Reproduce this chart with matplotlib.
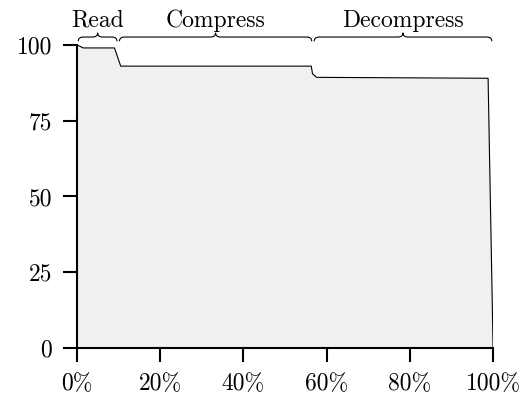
import numpy as np
import matplotlib
matplotlib.use('Agg')
import matplotlib.pyplot as plt
from matplotlib.patches import PathPatch
from matplotlib.path import Path as MplPath
from matplotlib.transforms import blended_transform_factory

plt.rcParams.update({
    "font.family": "cmr10",
    "mathtext.fontset": "cm",
    "axes.unicode_minus": False,
    "font.size": 17,
})

# ---------------------------------------------------------------------------
# DATA
# ---------------------------------------------------------------------------
progress = [0, 1.5, 9.0, 10.5, 56.3, 56.6, 57.6, 98.8, 100]
value = [100, 99, 99, 93, 93, 90.5, 89.3, 89, 0]

phase_names = ["Read", "Compress", "Decompress"]
phase_bounds = [(0, 9.9), (9.9, 56.7), (56.7, 100)]

x_ticks = [0, 20, 40, 60, 80, 100]
x_tick_labels = ["0%", "20%", "40%", "60%", "80%", "100%"]
y_ticks = [0, 25, 50, 75, 100]


def brace_path(x0, x1, yb, ym, yt, r):
    xm = 0.5 * (x0 + x1)
    verts = [(x0, yb), (x0, ym), (x0 + r, ym),
             (xm - r, ym),
             (xm, ym), (xm, yt),
             (xm, ym), (xm + r, ym),
             (x1 - r, ym),
             (x1, ym), (x1, yb)]
    codes = [MplPath.MOVETO, MplPath.CURVE3, MplPath.CURVE3,
             MplPath.LINETO,
             MplPath.CURVE3, MplPath.CURVE3,
             MplPath.CURVE3, MplPath.CURVE3,
             MplPath.LINETO,
             MplPath.CURVE3, MplPath.CURVE3]
    return MplPath(verts, codes)


fig = plt.figure(figsize=(5.24, 4.01), dpi=100)
ax = fig.add_axes([0.147, 0.132, 0.794, 0.756])

ax.fill_between(progress, 0, value, color='#f0f0f0', lw=0, zorder=1)
ax.plot(progress, value, color='black', lw=0.8, zorder=2)

ax.set_xlim(0, 100)
ax.set_ylim(0, 100)
ax.set_xticks(x_ticks)
ax.set_xticklabels(x_tick_labels)
ax.set_yticks(y_ticks)
ax.tick_params(direction='out', length=10, width=1.5, pad=8)
for side in ('top', 'right'):
    ax.spines[side].set_visible(False)
for side in ('left', 'bottom'):
    ax.spines[side].set_linewidth(1.5)

# --- phase braces above the plot ---
trans = blended_transform_factory(ax.transData, ax.transAxes)
for name, (x0, x1) in zip(phase_names, phase_bounds):
    p = brace_path(x0 + 0.3, x1 - 0.3, 1.012, 1.026, 1.040, 1.2)
    ax.add_patch(PathPatch(p, facecolor='none', edgecolor='black', lw=0.8,
                           transform=trans, clip_on=False))
    ax.text(0.5 * (x0 + x1), 1.06, name, transform=trans,
            ha='center', va='baseline', fontsize=17)

fig.savefig('out.png', dpi=100)
